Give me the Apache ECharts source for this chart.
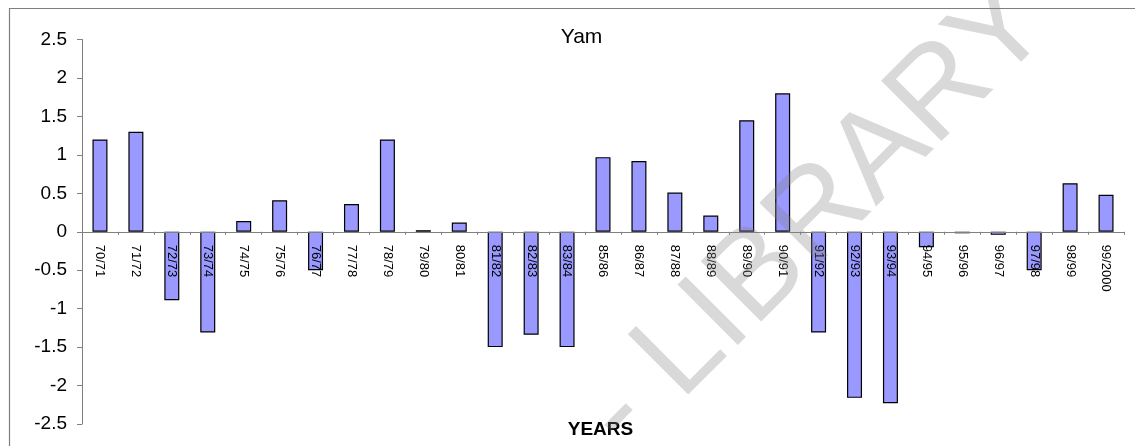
<!DOCTYPE html>
<html>
<head>
<meta charset="utf-8">
<title>Yam</title>
<script src="https://cdn.jsdelivr.net/npm/echarts@6/dist/echarts.min.js"></script>
<style>
  html, body { margin: 0; padding: 0; background: #ffffff; }
  #chart { width: 1135px; height: 446px; }
</style>
</head>
<body>
<div id="chart"></div>
<script>
// Crop years (1984/85 is not reported)
const years = [
  '70/71', '71/72', '72/73', '73/74', '74/75', '75/76', '76/77', '77/78',
  '78/79', '79/80', '80/81', '81/82', '82/83', '83/84', '85/86', '86/87',
  '87/88', '88/89', '89/90', '90/91', '91/92', '92/93', '93/94', '94/95',
  '95/96', '96/97', '97/98', '98/99', '99/2000'
];

// Yam index per season
const yamValues = [
  1.20, 1.30, -0.89, -1.31, 0.14, 0.41, -0.50, 0.36,
  1.20, 0.02, 0.12, -1.50, -1.34, -1.50, 0.97, 0.92,
  0.51, 0.21, 1.45, 1.80, -1.31, -2.16, -2.23, -0.20,
  -0.02, -0.04, -0.50, 0.63, 0.48
];

// Value axis range
const yMin = -2.5;
const yMax = 2.5;
const yStep = 0.5;

const chartTitle = 'Yam';
const xAxisTitle = 'YEARS';
const stampText = '- LIBRARY';

const FONT = '"Liberation Sans", Arial, sans-serif';

const GRID_TOP = 39.5;
const GRID_BOTTOM = 22;
const CHART_H = 446;

const chart = echarts.init(document.getElementById('chart'), null, { renderer: 'canvas' });

// Category axis sits on the zero line: lift it from the grid bottom by the
// distance between yMin and 0 on the value scale.
const plotH = CHART_H - GRID_TOP - GRID_BOTTOM;
const zeroLift = plotH * (0 - yMin) / (yMax - yMin);

// Library stamp runs diagonally across the plot
const stampAngle = 45 * Math.PI / 180;

chart.setOption({
  animation: false,
  backgroundColor: '#ffffff',
  title: [
    {
      text: chartTitle,
      left: 576.5, top: 22, textAlign: 'center',
      textStyle: { fontFamily: FONT, fontSize: 21, fontWeight: 'normal', color: '#000' }
    },
    {
      text: xAxisTitle,
      left: 595.5, top: 415, textAlign: 'center',
      textStyle: { fontFamily: FONT, fontSize: 19, fontWeight: 'bold', color: '#000' }
    }
  ],
  grid: {
    left: 82, right: 11, top: GRID_TOP, bottom: GRID_BOTTOM,
    containLabel: false, outerBoundsMode: 'none'
  },
  xAxis: {
    type: 'category',
    data: years,
    z: 10,
    offset: -zeroLift,
    axisLine: { onZero: false, lineStyle: { color: '#808080', width: 1 } },
    axisTick: { show: true, length: 3, inside: false, lineStyle: { color: '#808080' } },
    axisLabel: {
      interval: 0, rotate: -90, margin: 13,
      fontFamily: FONT, fontSize: 13, color: '#000'
    },
    splitLine: { show: false }
  },
  yAxis: {
    type: 'value',
    min: yMin, max: yMax, interval: yStep,
    axisLine: { show: true, lineStyle: { color: '#808080', width: 1 } },
    axisTick: { show: true, length: 5, lineStyle: { color: '#808080' } },
    axisLabel: {
      fontFamily: FONT, fontSize: 19, color: '#000', margin: 15,
      formatter: v => String(Math.round(v * 10) / 10)
    },
    splitLine: { show: false }
  },
  series: [{
    type: 'bar',
    data: yamValues,
    barWidth: 15,
    itemStyle: { color: '#9999ff', borderColor: '#000', borderWidth: 1.2 }
  }],
  graphic: [
    {
      type: 'rect',
      z: 0,
      silent: true,
      shape: { x: 9.5, y: 8.5, width: 1200, height: 500 },
      style: { fill: 'none', stroke: '#7f7f7f', lineWidth: 1.2 }
    },
    {
      type: 'text',
      z: 100,
      silent: true,
      x: 647, y: 475,
      rotation: stampAngle,
      style: {
        text: stampText,
        font: '124px "Liberation Sans", Arial, sans-serif',
        fill: 'rgba(128,128,128,0.3)',
        textAlign: 'left',
        textVerticalAlign: 'bottom'
      }
    }
  ]
});
</script>
</body>
</html>
